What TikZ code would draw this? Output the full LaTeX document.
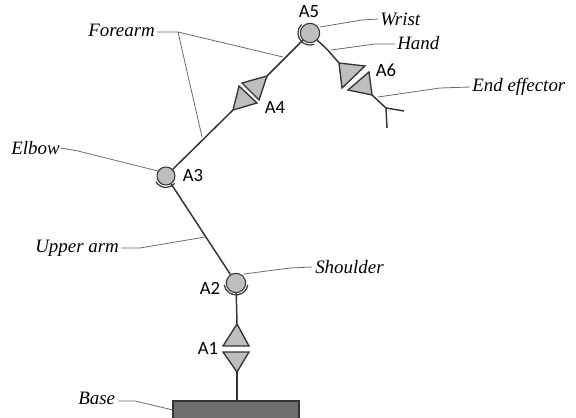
\documentclass[tikz,border=0pt]{standalone}
\usepackage{xcolor}
\usepackage{fontspec}
\setmainfont{Liberation Serif}
\newfontfamily\axisfont{Carlito}
\usetikzlibrary{calc,positioning}
\definecolor{jointgray}{HTML}{BEBEBE}
\definecolor{basegray}{HTML}{6E6E6E}
\definecolor{armdark}{HTML}{30343B}
\definecolor{leadergray}{HTML}{6A6A6A}
\tikzset{
  armline/.style={armdark, line width=1.1pt},
  leader/.style={leadergray, line width=0.6pt},
  joint/.style={circle, draw=armdark, fill=jointgray, line width=0.8pt, inner sep=0pt},
  jointarc/.style={armdark, line width=0.9pt},
  wedge/.style={draw=armdark, fill=jointgray, line width=1pt, line join=miter},
  partlabel/.style={font=\itshape\fontsize{14.2}{16}\selectfont, inner sep=0pt},
  axislabel/.style={font=\axisfont\fontsize{14}{16}\selectfont, text=black, inner sep=0pt}
}
\begin{document}
\begin{tikzpicture}[x=0.75pt,y=-0.75pt]
  \useasboundingbox (0,0) rectangle (576,418);
  % base and joints
  \fill[basegray] (173,401) rectangle (299,418);
  \draw[armdark, line width=0.8pt] (173,418)--(173,401)--(299,401)--(299,418);
  \node[joint, minimum size=14.5pt] (shoulder) at (236,283) {};
  \node[joint, minimum size=13.5pt] (elbow) at (166,176) {};
  \node[joint, minimum size=14.5pt] (wrist) at (310,33) {};
  \coordinate (basetop) at (237,401);
  \coordinate (a1top) at (237,324);
  \coordinate (a1low) at (237,372);
  \coordinate (a4low) at (233,110);
  \coordinate (a4top) at (267,76);
  \coordinate (a6top) at (339,63);
  \coordinate (a6low) at (372,95);
  \coordinate (fork) at (386,108);
  \coordinate (forkr) at (404,111);
  \coordinate (forkd) at (387,128);
  % links
  \draw[armline] (basetop)--(a1low);
  \draw[armline] (a1top)--(shoulder);
  \draw[armline] (shoulder)--(elbow);
  \draw[armline] (elbow)--(a4low);
  \draw[armline] (a4top)--(wrist);
  \draw[armline] (wrist.-45) .. controls (327,49) .. (a6top);
  \draw[armline] (a6low)--(fork);
  \draw[armline] (fork)--(forkr);
  \draw[armline] (fork)--(forkd);
  % wedges
  \draw[wedge] (a1top)--(223,346)--(249,346)--cycle;
  \draw[wedge] (a1low)--(223,352)--(249,352)--cycle;
  \draw[wedge] (a4top)--(242,83)--(259,100)--cycle;
  \draw[wedge] (a4low)--(239,86)--(257,103)--cycle;
  \draw[wedge] (a6top)--(365,66)--(342,88)--cycle;
  \draw[wedge] (a6low)--(369,72)--(348,90)--cycle;
  % double arcs on the joints
  \draw[jointarc] ($(shoulder)+(-11.8,2)$) arc[start angle=190, end angle=350, x radius=12, y radius=-12];
  \draw[jointarc] ($(elbow)+(-10,5.7)$) arc[start angle=210, end angle=320, x radius=11.5, y radius=-11.5];
  \draw[jointarc] ($(wrist)+(-8.5,-8.5)$) arc[start angle=135, end angle=290, x radius=12, y radius=-12];
  % axis labels
  \node[axislabel] (a1) at (208,348) {A1};
  \node[axislabel] (a2) at (210,288) {A2};
  \node[axislabel] (a3) at (193,176) {A3};
  \node[axislabel] (a4) at (275,108) {A4};
  \node[axislabel] (a5) at (309,12) {A5};
  \node[axislabel] (a6) at (386,70) {A6};
  % part labels
  \node[partlabel, anchor=west] (forearm) at (88,30) {Forearm};
  \node[partlabel, anchor=west] (wristlabel) at (380,19) {Wrist};
  \node[partlabel, anchor=west] (hand) at (397,43) {Hand};
  \node[partlabel, anchor=west] (effector) at (472,87) {End effector};
  \node[partlabel, anchor=west] (elbowlabel) at (11,148) {Elbow};
  \node[partlabel, anchor=west] (upperarm) at (35,248) {Upper arm};
  \node[partlabel, anchor=west] (shoulderlabel) at (315,267) {Shoulder};
  \node[partlabel, anchor=west] (baselabel) at (78,398) {Base};
  % leaders
  \coordinate (fa) at (178,32);
  \draw[leader] (forearm.east)++(2,2)--(fa)--(283,57);
  \draw[leader] (fa)--(202,137);
  \draw[leader] (wristlabel.west)++(-2,0)--(362,20)--(320,27);
  \draw[leader] (hand.west)++(-2,1)--(375,44)--(331,50);
  \draw[leader] (effector.west)++(-2,0)--(440,88)--(378,97);
  \draw[leader] (elbowlabel.east)++(1,0)--(78,151)--(158,171);
  \draw[leader] (upperarm.east)++(2,0)--(140,248)--(205,237);
  \draw[leader] (shoulderlabel.west)++(-3,0)--(290,268)--(244,274);
  \draw[leader] (baselabel.east)++(3,3)--(135,401)--(173,410);
\end{tikzpicture}
\end{document}
